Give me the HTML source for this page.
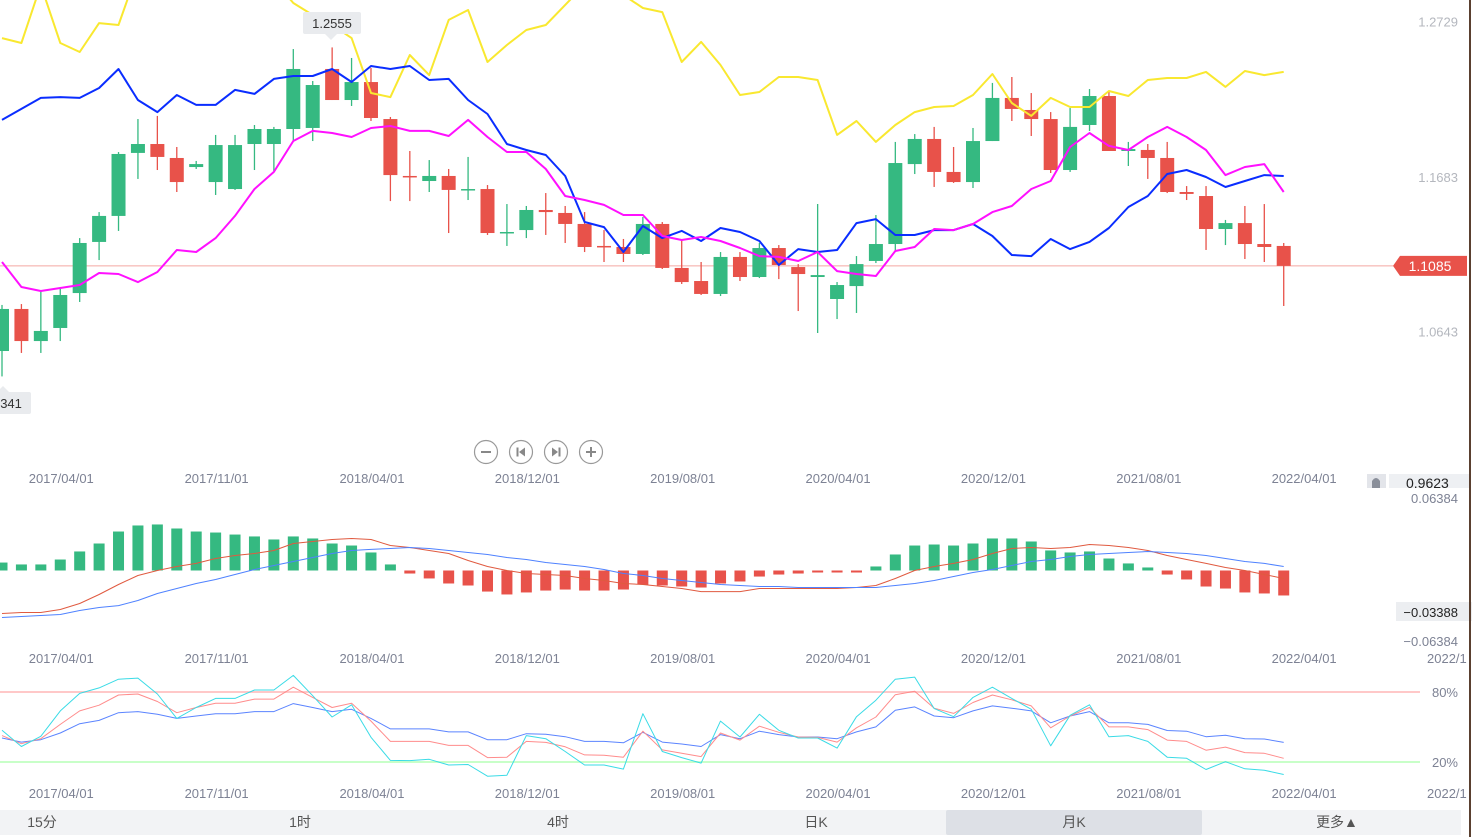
<!DOCTYPE html>
<html><head><meta charset="utf-8"><style>
html,body{margin:0;padding:0;background:#fff;}
svg{display:block;font-family:"Liberation Sans","Noto Sans CJK SC",sans-serif;}
</style></head><body>
<svg id="chart" width="1472" height="837" viewBox="0 0 1472 837" xmlns="http://www.w3.org/2000/svg">
<rect x="0" y="0" width="1472" height="837" fill="#fff"/>
<g id="main"></g>
<g id="macd"></g>
<g id="kdj"></g>
<g id="axes"></g>
<line x1="1470" y1="0" x2="1470" y2="837" stroke="#5a4030" stroke-width="2"/>
<g fill="none" stroke="#999" stroke-width="1.2">
  <circle cx="486" cy="452" r="11.5"/>
  <line x1="481" y1="452" x2="491" y2="452" stroke="#888" stroke-width="2"/>
  <circle cx="521" cy="452" r="11.5"/>
  <line x1="517.5" y1="447.5" x2="517.5" y2="456.5" stroke="#888" stroke-width="2"/>
  <polygon points="525,447.5 525,456.5 519,452" fill="#888" stroke="none"/>
  <circle cx="556" cy="452" r="11.5"/>
  <line x1="559.5" y1="447.5" x2="559.5" y2="456.5" stroke="#888" stroke-width="2"/>
  <polygon points="552,447.5 552,456.5 558,452" fill="#888" stroke="none"/>
  <circle cx="591" cy="452" r="11.5"/>
  <line x1="586" y1="452" x2="596" y2="452" stroke="#888" stroke-width="2"/>
  <line x1="591" y1="447" x2="591" y2="457" stroke="#888" stroke-width="2"/>
</g>
<g font-size="14" fill="#555" text-anchor="middle">
  <rect x="0" y="810" width="1461" height="25" fill="#f2f3f5"/>
  <rect x="946" y="810" width="256" height="25" fill="#dde0e6" rx="2"/>
  <text x="42" y="827">15分</text>
  <text x="300" y="827">1时</text>
  <text x="558" y="827">4时</text>
  <text x="816" y="827">日K</text>
  <text x="1074" y="827">月K</text>
  <text x="1337" y="827">更多▲</text>
</g>
</svg>
<script>
// ---- price data (monthly OHLC) ----
const opens  = [1.0512,1.0795,1.0579,1.0667,1.0902,1.1246,1.1421,1.1845,1.1905,1.1811,1.1750,1.1649,1.1602,1.1905,1.1905,1.2006,1.2013,1.2410,1.2201,1.2322,1.2073,1.1690,1.1656,1.1690,1.1596,1.1602,1.1306,1.1326,1.1461,1.1441,1.1367,1.1219,1.1212,1.1165,1.1367,1.1071,1.0983,1.0896,1.1145,1.1010,1.1205,1.1077,1.1010,1.0862,1.0949,1.1118,1.1232,1.1770,1.1939,1.1717,1.1649,1.1925,1.2215,1.2134,1.2073,1.1730,1.2033,1.2228,1.1858,1.1865,1.1811,1.1582,1.1555,1.1333,1.1373,1.1232,1.1219];
const highs  = [1.0822,1.0828,1.0916,1.0936,1.1272,1.1447,1.1851,1.2073,1.2094,1.1885,1.1791,1.1966,1.1966,1.2033,1.2020,1.2544,1.2329,1.2555,1.2484,1.2417,1.2087,1.1858,1.1797,1.1737,1.1818,1.1629,1.1501,1.1488,1.1575,1.1488,1.1447,1.1326,1.1266,1.1414,1.1380,1.1259,1.1111,1.1178,1.1178,1.1239,1.1225,1.1097,1.1501,1.0976,1.1151,1.1427,1.1919,1.1972,1.2020,1.1885,1.2013,1.2316,1.2356,1.2248,1.2120,1.2147,1.2275,1.2255,1.1919,1.1905,1.1919,1.1622,1.1622,1.1394,1.1488,1.1501,1.1239];
const lows   = [1.0341,1.0499,1.0499,1.0579,1.0842,1.1124,1.1320,1.1670,1.1730,1.1582,1.1737,1.1562,1.1596,1.1730,1.1723,1.1925,1.1925,1.2201,1.2161,1.2060,1.1521,1.1521,1.1582,1.1306,1.1528,1.1293,1.1219,1.1272,1.1293,1.1239,1.1178,1.1111,1.1111,1.1158,1.1064,1.0963,1.0889,1.0882,1.0983,1.1003,1.0996,1.0781,1.0633,1.0727,1.0768,1.1104,1.1178,1.1703,1.1616,1.1643,1.1609,1.1925,1.2060,1.1959,1.1710,1.1717,1.1993,1.1858,1.1757,1.1670,1.1575,1.1528,1.1192,1.1225,1.1131,1.1111,1.0815];
const closes = [1.0795,1.0579,1.0647,1.0889,1.1239,1.1421,1.1838,1.1905,1.1818,1.1649,1.1770,1.1898,1.1898,1.2006,1.2006,1.2410,1.2302,1.2201,1.2322,1.2080,1.1696,1.1687,1.1690,1.1596,1.1602,1.1306,1.1313,1.1461,1.1447,1.1367,1.1212,1.1215,1.1165,1.1367,1.1071,1.0976,1.0896,1.1145,1.1010,1.1205,1.1091,1.1030,1.1023,1.0956,1.1097,1.1232,1.1777,1.1939,1.1717,1.1649,1.1925,1.2215,1.2141,1.2073,1.1730,1.2020,1.2228,1.1858,1.1871,1.1811,1.1582,1.1569,1.1333,1.1373,1.1232,1.1212,1.1085];
const maYellow  = [1.2618,1.2585,1.2975,1.2585,1.2524,1.2719,1.2706,1.3076,1.3143,1.3143,1.3143,1.3143,1.3143,1.3143,1.3009,1.2854,1.2773,1.2706,1.2618,1.2248,1.2221,1.2504,1.2369,1.2740,1.2807,1.2457,1.2571,1.2672,1.2706,1.2841,1.2975,1.2975,1.2908,1.2820,1.2793,1.2457,1.2592,1.2437,1.2235,1.2255,1.2356,1.2356,1.2336,1.1966,1.2060,1.1919,1.2033,1.2120,1.2154,1.2161,1.2235,1.2376,1.2181,1.2094,1.2215,1.2154,1.2154,1.2262,1.2228,1.2336,1.2349,1.2349,1.2390,1.2289,1.2396,1.2369,1.2390];
const maBlue    = [1.2067,1.2141,1.2215,1.2221,1.2215,1.2282,1.2410,1.2201,1.2120,1.2235,1.2168,1.2168,1.2269,1.2242,1.2343,1.2363,1.2363,1.2410,1.2322,1.2430,1.2410,1.2430,1.2336,1.2343,1.2201,1.2107,1.1905,1.1865,1.1831,1.1690,1.1380,1.1346,1.1178,1.1353,1.1272,1.1320,1.1252,1.1340,1.1313,1.1252,1.1091,1.1198,1.1178,1.1192,1.1373,1.1400,1.1293,1.1293,1.1326,1.1326,1.1367,1.1286,1.1158,1.1151,1.1266,1.1198,1.1246,1.1340,1.1481,1.1555,1.1703,1.1730,1.1683,1.1616,1.1656,1.1696,1.1690];
const maMagenta = [1.1111,1.0943,1.0916,1.0936,1.0956,1.1037,1.1030,1.0976,1.1044,1.1192,1.1178,1.1272,1.1421,1.1602,1.1717,1.1925,1.1993,1.1979,1.1952,1.2013,1.2026,1.1993,1.1993,1.1959,1.2067,1.1952,1.1851,1.1851,1.1737,1.1555,1.1528,1.1495,1.1427,1.1427,1.1286,1.1259,1.1279,1.1252,1.1205,1.1151,1.1145,1.1118,1.1178,1.1050,1.1030,1.1017,1.1185,1.1212,1.1333,1.1326,1.1367,1.1447,1.1488,1.1602,1.1656,1.1885,1.1979,1.1892,1.1865,1.1952,1.2020,1.1952,1.1865,1.1696,1.1750,1.1770,1.1582];
// ---- MACD ----
const macdHist = [0.0071,0.0054,0.0054,0.0098,0.0170,0.0241,0.0348,0.0402,0.0411,0.0375,0.0348,0.0339,0.0321,0.0304,0.0277,0.0304,0.0286,0.0241,0.0223,0.0161,0.0054,-0.0027,-0.0071,-0.0116,-0.0134,-0.0188,-0.0214,-0.0196,-0.0179,-0.0170,-0.0179,-0.0179,-0.0170,-0.0125,-0.0134,-0.0143,-0.0152,-0.0116,-0.0098,-0.0054,-0.0036,-0.0027,-0.0018,-0.0018,-0.0018,0.0036,0.0143,0.0223,0.0232,0.0223,0.0241,0.0286,0.0286,0.0259,0.0179,0.0161,0.0170,0.0107,0.0063,0.0027,-0.0036,-0.0080,-0.0143,-0.0161,-0.0196,-0.0205,-0.0223];
const macdDif  = [-0.0384,-0.0375,-0.0375,-0.0348,-0.0295,-0.0214,-0.0125,-0.0045,0,0.0036,0.0063,0.0107,0.0134,0.0152,0.0179,0.0241,0.0259,0.0277,0.0286,0.0277,0.0223,0.0205,0.0179,0.0152,0.0089,0.0036,0,-0.0027,-0.0036,-0.0045,-0.0071,-0.0089,-0.0116,-0.0125,-0.0143,-0.0161,-0.0188,-0.0188,-0.0188,-0.0161,-0.0161,-0.0161,-0.0161,-0.0161,-0.0152,-0.0134,-0.0071,0,0.0036,0.0063,0.0098,0.0152,0.0196,0.0205,0.0196,0.0205,0.0232,0.0223,0.0205,0.0179,0.0134,0.0098,0.0063,0.0027,0,-0.0036,-0.0071];
const macdDea  = [-0.0420,-0.0411,-0.0402,-0.0393,-0.0357,-0.0330,-0.0313,-0.0268,-0.0205,-0.0161,-0.0116,-0.0080,-0.0036,0.0009,0.0045,0.0080,0.0116,0.0152,0.0179,0.0188,0.0196,0.0205,0.0196,0.0179,0.0161,0.0143,0.0116,0.0098,0.0071,0.0054,0.0036,0.0009,-0.0027,-0.0045,-0.0071,-0.0089,-0.0107,-0.0125,-0.0134,-0.0143,-0.0143,-0.0152,-0.0152,-0.0152,-0.0152,-0.0152,-0.0134,-0.0116,-0.0089,-0.0054,-0.0018,0.0009,0.0045,0.0080,0.0098,0.0125,0.0143,0.0152,0.0161,0.0170,0.0161,0.0152,0.0134,0.0107,0.0080,0.0063,0.0036];
// ---- KDJ ----
const kdjK = [42.6,35.7,40.0,52.2,63.8,68.7,77.4,78.3,71.9,62.3,66.7,70.4,70.4,73.9,73.9,84.1,75.4,66.7,70.4,55.1,37.7,37.7,37.7,34.2,34.2,23.8,24.1,37.7,36.8,33.0,26.1,25.8,24.1,46.4,30.4,27.5,24.6,44.9,38.8,50.7,45.5,41.4,41.1,37.1,49.3,58.6,77.7,80.6,66.1,61.7,71.0,77.4,73.3,68.1,49.3,59.4,66.7,50.1,50.1,47.8,38.8,37.7,30.1,32.8,28.1,27.5,23.2];
const kdjD = [40.6,37.1,39.1,44.9,52.8,55.7,62.3,63.2,60.9,57.4,59.4,61.4,61.4,63.2,63.2,70.1,66.7,63.2,65.2,57.4,48.4,48.4,48.4,45.8,45.8,39.1,39.1,44.3,43.8,41.7,37.7,37.7,36.5,45.5,37.1,35.4,33.3,43.5,40.0,46.4,43.5,41.4,41.4,40.0,45.8,50.1,64.3,67.2,59.4,58.0,63.8,68.1,66.1,63.8,53.6,59.4,63.2,53.6,53.6,52.2,47.0,46.4,41.7,42.9,40.0,39.7,36.8];
const kdjJ = [47.2,33.3,42.0,63.8,78.8,83.5,91.0,91.9,78.3,57.4,66.7,74.5,74.5,81.7,81.7,94.2,76.8,58.6,69.0,41.2,21.4,21.2,22.3,17.4,17.9,7.8,8.7,42.6,40.0,29.0,17.4,17.4,13.9,61.4,29.0,23.8,19.1,55.1,41.4,60.9,47.2,40.6,40.6,31.9,58.8,73.0,91.0,92.8,65.8,58.8,75.4,84.1,74.5,65.2,33.9,60.0,69.0,41.7,42.6,37.7,24.1,23.2,13.6,20.3,14.2,13.0,9.3];
// ---- axis labels ----
const dateLabels = ["2017/04/01","2017/11/01","2018/04/01","2018/12/01","2019/08/01","2020/04/01","2020/12/01","2021/08/01","2022/04/01"];
const dateLabelIdx = [3,11,19,27,35,43,51,59,67];
const priceTicks = [1.2729,1.1683,1.0643];
const lastPrice = 1.1085;

const NS="http://www.w3.org/2000/svg";
function mk(tag,attrs,parent){const e=document.createElementNS(NS,tag);for(const k in attrs)e.setAttribute(k,attrs[k]);parent.appendChild(e);return e;}
const xOf = i => 2 + 19.42*i;
const yP = p => 177 - (p-1.1683)*1486;
const yM = v => 570.5 - v*1120;
const yK = v => 692 + (80-v)*1.1667;
const GREEN="#35b981", RED="#e8524a";
const main=document.getElementById('main'), macd=document.getElementById('macd'), kdj=document.getElementById('kdj'), axes=document.getElementById('axes');

let lp = mk('line',{x1:0,x2:1393,y1:yP(lastPrice),y2:yP(lastPrice),stroke:"#f4a8a2","stroke-width":1},main);



for(let i=0;i<opens.length;i++){
  const up = closes[i]>=opens[i], col = up?GREEN:RED, x=xOf(i);
  const g=mk('g',{},main);
  
  
  mk('line',{x1:x,x2:x,y1:yP(highs[i]),y2:yP(lows[i]),stroke:col,"stroke-width":1.3},g);
  const t=yP(Math.max(opens[i],closes[i])), b=yP(Math.min(opens[i],closes[i]));
  mk('rect',{x:x-7,y:t,width:14,height:Math.max(1.5,b-t),fill:col},g);
}
function line(arr,yf,color,w,parent,name){
  const pts=arr.map((v,i)=>xOf(i).toFixed(1)+","+yf(v).toFixed(1)).join(" ");
  const p=mk('polyline',{points:pts,fill:"none",stroke:color,"stroke-width":w,"stroke-linejoin":"round"},parent);
  
  
}
line(maYellow,yP,"#f9e830",2,main,'ma-yellow-line');
line(maBlue,yP,"#0a2dff",2,main,'ma-blue-line');
line(maMagenta,yP,"#ff10ff",2,main,'ma-magenta-line');

function tip(x,y,w,text,arrowUp,name,ax){
  const g=mk('g',{},main);
  
  
  mk('rect',{x:x,y:y,width:w,height:22,rx:2,fill:"#e9ebee"},g);
  if(arrowUp) mk('polygon',{points:`${ax-6},${y} ${ax+6},${y} ${ax},${y-6}`,fill:"#e9ebee"},g);
  else mk('polygon',{points:`${ax-6},${y+22} ${ax+6},${y+22} ${ax},${y+28}`,fill:"#e9ebee"},g);
  const t=mk('text',{x:x+w/2,y:y+16,"text-anchor":"middle","font-size":13,fill:"#333"},g);t.textContent=text;
}
tip(303,12,58,"1.2555",false,'max-price-tooltip',331);
tip(-27,392,58,"1.0341",true,'min-price-tooltip',3);

priceTicks.forEach(p=>{const t=mk('text',{x:1458,y:yP(p)+5,"text-anchor":"end","font-size":13,fill:"#b4b7be"},axes);


t.textContent=p.toFixed(4);});
{const y=yP(lastPrice);const g=mk('g',{},axes);


mk('polygon',{points:`1393,${y} 1400,${y-10} 1467,${y-10} 1467,${y+10} 1400,${y+10}`,fill:RED},g);
const t=mk('text',{x:1430,y:y+5,"text-anchor":"middle","font-size":14,fill:"#fff"},g);t.textContent=lastPrice.toFixed(4);}

[478,658,793].forEach((yy,pi)=>{
  dateLabels.forEach((d,k)=>{const t=mk('text',{x:xOf(dateLabelIdx[k])+1,y:yy+5,"text-anchor":"middle","font-size":13,fill:"#7d8294"},axes);
  
  
  t.textContent=d;});
  if(pi){const t=mk('text',{x:1427,y:yy+5,"font-size":13,fill:"#7d8294"},axes);
  
  
  t.textContent="2022/1";}
});
{const g=mk('g',{},axes);


mk('rect',{x:1367,y:474,width:19,height:14,fill:"#e3e5ea"},g);
mk('path',{d:"M1372,488 L1372,481 Q1376,475 1380,481 L1380,488 Z",fill:"#8a8f9a"},g);
mk('rect',{x:1389,y:474,width:81,height:14,fill:"#eef0f3"},g);
const t=mk('text',{x:1406,y:488,"font-size":14,fill:"#222"},g);t.textContent="0.9623";}

for(let i=0;i<macdHist.length;i++){
  const v=macdHist[i], y0=yM(0), y1=yM(v);
  const r=mk('rect',{x:xOf(i)-5.5,y:Math.min(y0,y1),width:11,height:Math.max(1.5,Math.abs(y1-y0)),fill:v>=0?GREEN:RED},macd);
  
  
}
line(macdDif,yM,"#e05a40",1,macd,'macd-dif-line');
line(macdDea,yM,"#4f82ff",1,macd,'macd-dea-line');
[[0.06384,"0.06384"],[-0.06384,"−0.06384"]].forEach(a=>{const t=mk('text',{x:1458,y:yM(a[0])+4,"text-anchor":"end","font-size":13,fill:"#7d8294"},axes);


t.textContent=a[1];});
{const g=mk('g',{},axes);


mk('rect',{x:1396,y:602,width:76,height:19,fill:"#eceef1"},g);
const t=mk('text',{x:1458,y:617,"text-anchor":"end","font-size":13,fill:"#222"},g);t.textContent="−0.03388";}

let l80=mk('line',{x1:0,x2:1420,y1:yK(80),y2:yK(80),stroke:"#ffc8c8","stroke-width":2},kdj);


let l20=mk('line',{x1:0,x2:1420,y1:yK(20),y2:yK(20),stroke:"#c8ffc8","stroke-width":2},kdj);


line(kdjD,yK,"#5b84ff",1,kdj,'kdj-d-line');
line(kdjK,yK,"#ff8c8c",1,kdj,'kdj-k-line');
line(kdjJ,yK,"#3adbe6",1,kdj,'kdj-j-line');
[[80,"80%"],[20,"20%"]].forEach(a=>{const t=mk('text',{x:1458,y:yK(a[0])+5,"text-anchor":"end","font-size":13,fill:"#7d8294"},axes);


t.textContent=a[1];});
</script>
</body></html>
